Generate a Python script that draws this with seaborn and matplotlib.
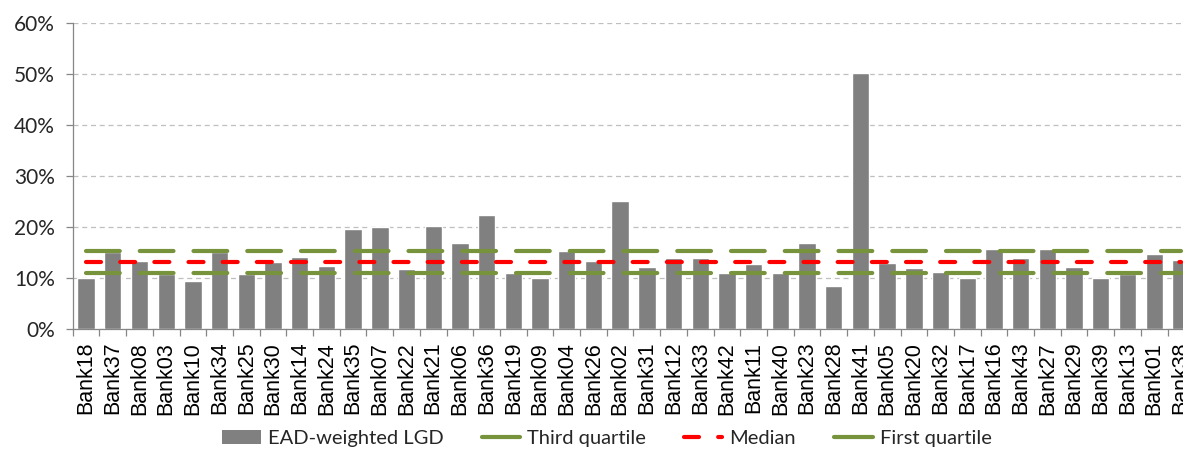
import numpy as np
import matplotlib
matplotlib.use('Agg')
import matplotlib.pyplot as plt
import seaborn as sns
from matplotlib.patches import Patch
from matplotlib.lines import Line2D
from matplotlib.ticker import MultipleLocator, PercentFormatter

# ── Data ──────────────────────────────────────────────────────────────
banks = ['Bank18', 'Bank37', 'Bank08', 'Bank03', 'Bank10', 'Bank34', 'Bank25',
         'Bank30', 'Bank14', 'Bank24', 'Bank35', 'Bank07', 'Bank22', 'Bank21',
         'Bank06', 'Bank36', 'Bank19', 'Bank09', 'Bank04', 'Bank26', 'Bank02',
         'Bank31', 'Bank12', 'Bank33', 'Bank42', 'Bank11', 'Bank40', 'Bank23',
         'Bank28', 'Bank41', 'Bank05', 'Bank20', 'Bank32', 'Bank17', 'Bank16',
         'Bank43', 'Bank27', 'Bank29', 'Bank39', 'Bank13', 'Bank01', 'Bank38']
lgd = [0.100, 0.151, 0.134, 0.109, 0.095, 0.151, 0.108,
       0.132, 0.141, 0.125, 0.196, 0.200, 0.118, 0.202,
       0.170, 0.223, 0.111, 0.101, 0.153, 0.134, 0.251,
       0.123, 0.139, 0.139, 0.111, 0.127, 0.111, 0.170,
       0.085, 0.503, 0.130, 0.121, 0.113, 0.100, 0.158,
       0.139, 0.158, 0.123, 0.100, 0.108, 0.148, 0.136]
third_quartile = 0.153
median = 0.132
first_quartile = 0.111

# ── Style ─────────────────────────────────────────────────────────────
sns.set_theme(style='white')
plt.rcParams['font.family'] = ['Lato', 'DejaVu Sans']

bar_col = '#808080'
green = '#77933C'
red = '#FF0000'
n = len(banks)

fig = plt.figure(figsize=(11.83, 4.49), dpi=100)
# the plot area runs a little past the right edge, as in the source chart
ax = fig.add_axes([0.0615, 0.2666, 0.948, 0.682])

sns.barplot(x=banks, y=lgd, color=bar_col, saturation=1, width=0.65, ax=ax)

# quartile / median lines across the categories
xs = [0, n - 1]
ax.plot(xs, [third_quartile] * 2, color=green, lw=3, dashes=(8.1, 4.8),
        dash_capstyle='round', zorder=3)
ax.plot(xs, [median] * 2, color=red, lw=3, dashes=(3.6, 4.6),
        dash_capstyle='round', zorder=3)
ax.plot(xs, [first_quartile] * 2, color=green, lw=3, dashes=(8.1, 4.8),
        dash_capstyle='round', zorder=3)

# ── Axes ──────────────────────────────────────────────────────────────
ax.set_xlim(-0.5, n - 0.5)
ax.set_ylim(0, 0.6)
ax.yaxis.set_major_locator(MultipleLocator(0.1))
ax.yaxis.set_major_formatter(PercentFormatter(1.0, decimals=0))
ax.yaxis.grid(True, linestyle=(0, (4, 3)), color='#BFBFBF', lw=0.9)
ax.set_axisbelow(True)

ax.set_xticks(np.arange(n))
ax.set_xticklabels(banks, rotation=90, fontsize=15.5, color='black',
                   family=['Liberation Sans', 'DejaVu Sans'])
ax.set_xticks(np.arange(n + 1) - 0.5, minor=True)
ax.tick_params(axis='x', which='major', length=0, pad=9)
ax.tick_params(axis='x', which='minor', length=5, width=0.9, color='#868686',
               bottom=True)
ax.tick_params(axis='y', length=5, width=0.9, color='#868686', left=True,
               labelsize=15, labelcolor='#262626', pad=8)

for side in ['top', 'right']:
    ax.spines[side].set_visible(False)
for side in ['left', 'bottom']:
    ax.spines[side].set_color('#868686')
    ax.spines[side].set_linewidth(0.9)

ax.set_xlabel('')
ax.set_ylabel('')

# ── Legend ────────────────────────────────────────────────────────────
handles = [
    Patch(facecolor=bar_col, edgecolor='none', label='EAD-weighted LGD'),
    Line2D([], [], color=green, lw=3, solid_capstyle='round', label='Third quartile'),
    Line2D([], [], color=red, lw=3, dashes=(3.6, 4.6), dash_capstyle='round',
           label='Median'),
    Line2D([], [], color=green, lw=3, solid_capstyle='round', label='First quartile'),
]
fig.legend(handles=handles, loc='center', bbox_to_anchor=(0.513, 0.024),
           ncol=4, frameon=False, fontsize=14.5, handlelength=1.9,
           handletextpad=0.35, columnspacing=1.9, labelcolor='#262626')

fig.savefig('out.png', dpi=100)
